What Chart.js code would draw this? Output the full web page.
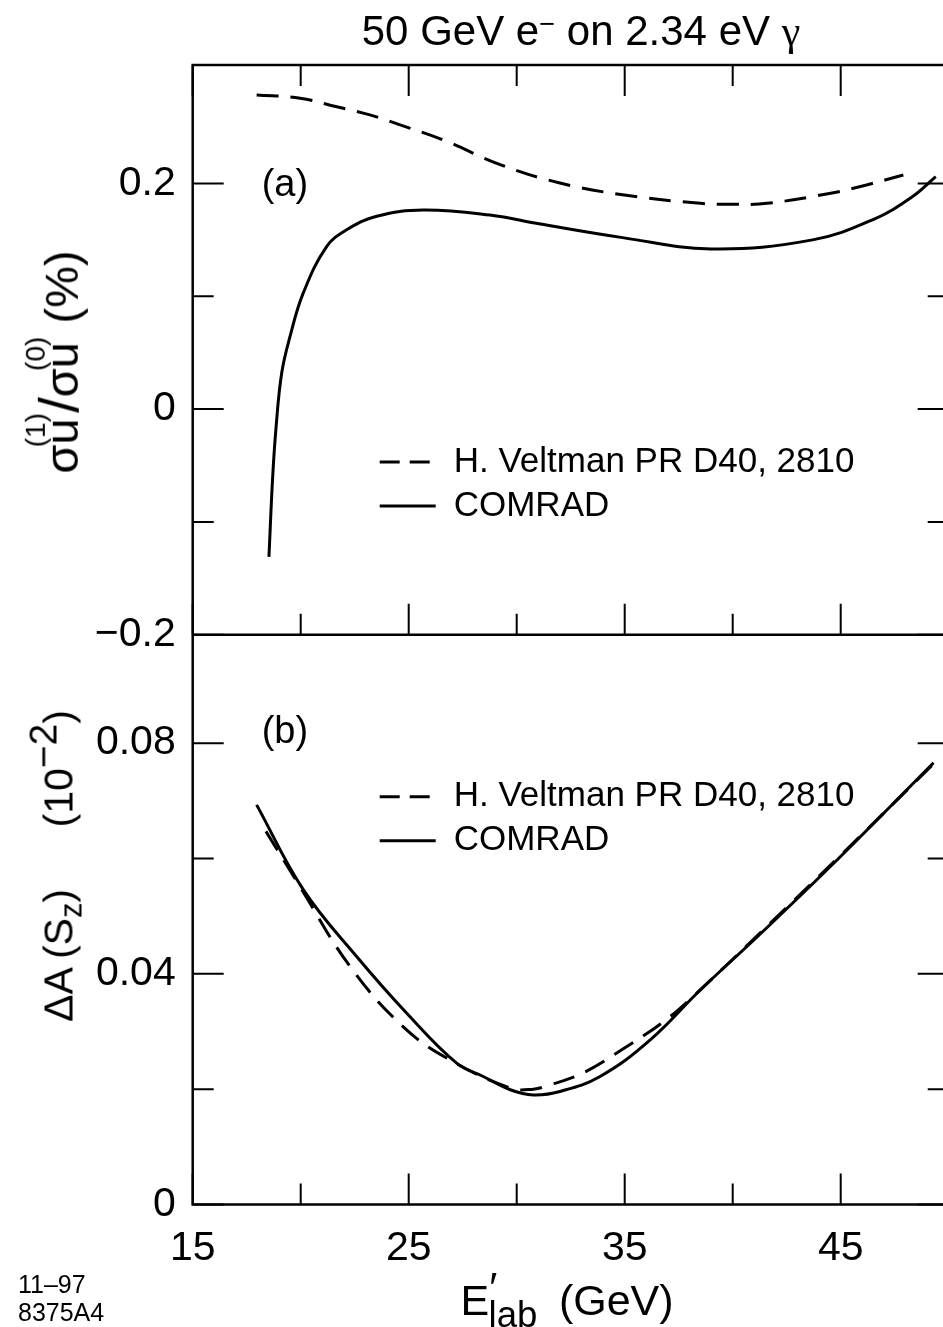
<!DOCTYPE html>
<html>
<head>
<meta charset="utf-8">
<script src="https://cdn.jsdelivr.net/npm/chart.js@4.4.1/dist/chart.umd.min.js"></script>
<style>
  html, body { margin: 0; padding: 0; background: #fff; overflow: hidden; }
  #wrap { position: relative; width: 943px; height: 1327px; overflow: hidden;
          font-family: "Liberation Sans", Arial, sans-serif; color: #000; }
  #chart { position: absolute; left: 0; top: 0; }
  .lbl { position: absolute; white-space: nowrap; line-height: 1; transform: translate(-50%, -50%); }
  #title { left: 581px; top: 31px; font-size: 42px; }
  #title .sp { position: relative; top: -0.45em; font-size: 0.65em; }
  #title .g { font-family: "Liberation Serif", "DejaVu Serif", serif; }
  #xtitle { left: 567px; top: 1300px; font-size: 43px; }
  #xtitle .pr { position: relative; top: -0.3em; margin-right: -0.2em; }
  #xtitle .sb { position: relative; top: 0.32em; font-size: 0.85em; }
  #ytop { left: 54px; top: 362px; font-size: 47px; transform: translate(-50%, -50%) rotate(-90deg); }
  #ytop .st { display: inline-block; text-align: left; }
  #ytop .st span { display: block; }
  #ytop .st .sup { font-size: 0.6em; margin-bottom: -0.4em; margin-left: -0.1em; }
  #ytop .sl { font-size: 1.2em; }
  #ybot { left: 59px; top: 866px; font-size: 41px; transform: translate(-50%, -50%) rotate(-90deg); }
  #ybot .sb { position: relative; top: 0.3em; font-size: 0.75em; }
  #ybot .sp { position: relative; top: -0.4em; font-size: 0.95em; }
  #foot { position: absolute; left: 18px; top: 1270px; font-size: 25px; line-height: 28px; }
</style>
</head>
<body>
<div id="wrap">
  <canvas id="chart" width="960" height="1327"></canvas>
  <div class="lbl" id="title">50 GeV e<span class="sp">−</span> on 2.34 eV <span class="g">γ</span></div>
  <div class="lbl" id="ytop">σ<span class="st"><span class="sup">(1)</span><span>u</span></span><span class="sl">/</span>σ<span class="st"><span class="sup">(0)</span><span>u</span></span>&nbsp;(%)</div>
  <div class="lbl" id="ybot">ΔA&thinsp;(S<span class="sb">z</span>)&emsp;&ensp;(10<span class="sp">−2</span>)</div>
  <div class="lbl" id="xtitle">E<span class="pr">′</span><span class="sb">lab</span>&ensp;(GeV)</div>
  <div id="foot">11–97<br>8375A4</div>
</div>
<script>
// Panel (a): sigma_u(1)/sigma_u(0) in %
const topSolidX = [18.53, 18.70, 18.86, 19.12, 19.50, 20.12, 21.20, 22.13, 23.52, 25.68, 28.76, 31.1, 34.9, 39.0, 43.7, 46.5, 48.3, 49.4];
const topSolidY = [-0.131, -0.061, -0.016, 0.032, 0.064, 0.103, 0.144, 0.159, 0.171, 0.1765, 0.172, 0.164, 0.152, 0.142, 0.150, 0.168, 0.188, 0.206];
const topDashX = [17.96, 19.97, 21.67, 23.2, 24.6, 26.6, 29.2, 32.0, 34.9, 38.5, 40.0, 41.6, 44.6, 46.2, 47.9];
const topDashY = [0.2785, 0.2756, 0.268, 0.2608, 0.2519, 0.2386, 0.217, 0.2004, 0.190, 0.1824, 0.1815, 0.1824, 0.1916, 0.1987, 0.2075];

// Panel (b): Delta A(Sz) in 10^-2
const botSolidX = [17.96, 20.12, 22.59, 24.9, 27.22, 28.45, 29.7, 30.77, 32.0, 33.86, 36.17, 38.5, 41.3, 44.9, 49.3];
const botSolidY = [0.0693, 0.0546, 0.0430, 0.0332, 0.0245, 0.0222, 0.0199, 0.0190, 0.0196, 0.0222, 0.0285, 0.0372, 0.0470, 0.0600, 0.0766];
const botDashX = [18.39, 19.97, 22.28, 24.75, 26.9, 29.7, 30.77, 31.5, 33.07, 35.1, 36.8, 38.0, 41.3, 44.9, 49.3];
const botDashY = [0.0647, 0.0551, 0.0413, 0.0308, 0.0251, 0.0202, 0.0200, 0.0207, 0.0228, 0.0274, 0.0317, 0.0355, 0.0472, 0.0602, 0.0764];

// ticks
const xTickLabels = [15, 25, 35, 45];
const xMinorTicks = [20, 30, 40];
const topTickLabels = [-0.2, 0, 0.2];
const topMinorTicks = [-0.1, 0.1];
const botTickLabels = [0, 0.04, 0.08];
const botMinorTicks = [0.02, 0.06];

const seriesNames = ['H. Veltman PR D40, 2810', 'COMRAD'];
const panelNames = ['(a)', '(b)'];

const FONT = '"Liberation Sans", Arial, sans-serif';
Chart.defaults.font.family = FONT;
Chart.defaults.color = '#000';

const pts = (xs, ys) => xs.map((x, i) => ({x: x, y: ys[i]}));
const fmt = v => v < 0 ? '\u2212' + Math.abs(v) : String(v);

const DASH = [22, 12];
function line(data, axis, dashed){
    return {
        data: data, yAxisID: axis,
        borderColor: '#000', borderWidth: 3,
        borderDash: dashed ? DASH : [],
        pointRadius: 0, fill: false,
        tension: 0.4
    };
}

// frame, inward ticks, panel labels and legends
const decor = {
    id: 'decor',
    afterDatasetsDraw(chart){
        const {ctx, scales} = chart;
        const x = scales.x, yt = scales.yTop, yb = scales.yBot;
        const L = x.left, R = x.right, T = yt.top, M = yt.bottom, B = yb.bottom;
        const BIG = 31, SMALL = 21;
        ctx.save();
        ctx.strokeStyle = '#000';
        ctx.lineWidth = 2.5;
        ctx.beginPath();
        ctx.rect(L, T, R - L, B - T);
        ctx.moveTo(L, M); ctx.lineTo(R, M);
        ctx.stroke();

        ctx.lineWidth = 2;
        ctx.beginPath();
        const xt = (v, len) => {
            const p = x.getPixelForValue(v);
            ctx.moveTo(p, T); ctx.lineTo(p, T + len);
            ctx.moveTo(p, M); ctx.lineTo(p, M - len);
            ctx.moveTo(p, B); ctx.lineTo(p, B - len);
        };
        const yk = (s, v, len) => {
            const p = s.getPixelForValue(v);
            ctx.moveTo(L, p); ctx.lineTo(L + len, p);
            ctx.moveTo(R, p); ctx.lineTo(R - len, p);
        };
        xTickLabels.forEach(v => xt(v, BIG));
        xMinorTicks.forEach(v => xt(v, SMALL));
        topTickLabels.forEach(v => yk(yt, v, BIG));
        topMinorTicks.forEach(v => yk(yt, v, SMALL));
        botTickLabels.forEach(v => yk(yb, v, BIG));
        botMinorTicks.forEach(v => yk(yb, v, SMALL));
        ctx.stroke();

        // panel labels
        ctx.fillStyle = '#000';
        ctx.font = '38px ' + FONT;
        ctx.textBaseline = 'middle';
        ctx.textAlign = 'left';
        ctx.fillText(panelNames[0], L + 69, T + 121);
        ctx.fillText(panelNames[1], L + 69, M + 98);

        // legends (one per panel)
        const legend = (y0) => {
            ctx.font = '35px ' + FONT;
            ctx.lineWidth = 3;
            ctx.setLineDash([20, 10]);
            ctx.beginPath(); ctx.moveTo(L + 187, y0); ctx.lineTo(L + 243, y0); ctx.stroke();
            ctx.setLineDash([]);
            ctx.beginPath(); ctx.moveTo(L + 187, y0 + 44); ctx.lineTo(L + 243, y0 + 44); ctx.stroke();
            ctx.fillText(seriesNames[0], L + 261, y0);
            ctx.fillText(seriesNames[1], L + 261, y0 + 44);
        };
        legend(T + 397);
        legend(M + 162);
        ctx.restore();
    }
};

new Chart(document.getElementById('chart'), {
    type: 'line',
    data: {
        datasets: [
            line(pts(topDashX, topDashY), 'yTop', true),
            line(pts(topSolidX, topSolidY), 'yTop', false),
            line(pts(botDashX, botDashY), 'yBot', true),
            line(pts(botSolidX, botSolidY), 'yBot', false)
        ]
    },
    options: {
        responsive: false,
        animation: false,
        layout: { padding: { left: 0, top: 65, right: 11.3, bottom: 52.5 } },
        plugins: { legend: { display: false }, tooltip: { enabled: false } },
        scales: {
            x: {
                type: 'linear', position: 'bottom', min: 15, max: 50,
                grid: { display: false }, border: { display: false },
                afterBuildTicks: s => { s.ticks = xTickLabels.map(v => ({value: v})); },
                afterFit: s => { s.height = 70; },
                ticks: { font: { size: 41 }, padding: 12, maxRotation: 0, autoSkip: false }
            },
            yBot: {
                type: 'linear', position: 'left', stack: 'panels', stackWeight: 1,
                min: 0, max: 0.0988,
                grid: { display: false }, border: { display: false },
                afterBuildTicks: s => { s.ticks = botTickLabels.map(v => ({value: v})); },
                afterFit: s => { s.width = 192.7; },
                ticks: { font: { size: 41 }, padding: 9, autoSkip: false, callback: fmt }
            },
            yTop: {
                type: 'linear', position: 'left', stack: 'panels', stackWeight: 1,
                min: -0.2, max: 0.305,
                grid: { display: false }, border: { display: false },
                afterBuildTicks: s => { s.ticks = topTickLabels.map(v => ({value: v})); },
                afterFit: s => { s.width = 192.7; },
                ticks: { font: { size: 41 }, padding: 9, autoSkip: false, callback: fmt }
            }
        }
    },
    plugins: [decor]
});
</script>
</body>
</html>
